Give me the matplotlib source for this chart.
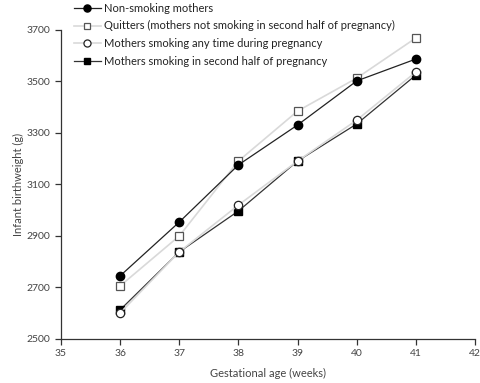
import matplotlib
matplotlib.use("Agg")
import matplotlib.pyplot as plt

weeks = [36, 37, 38, 39, 40, 41]
non_smoking = [2745, 2954, 3176, 3331, 3502, 3587]
quitters = [2706, 2900, 3191, 3385, 3513, 3669]
smoking_any = [2601, 2838, 3020, 3191, 3350, 3537]
smoking_second = [2613, 2838, 2997, 3191, 3335, 3525]

labels = ["Non-smoking mothers",
          "Quitters (mothers not smoking in second half of pregnancy)",
          "Mothers smoking any time during pregnancy",
          "Mothers smoking in second half of pregnancy"]

plt.rcParams['font.family'] = ['Lato', 'DejaVu Sans']

fig = plt.figure(figsize=(4.8, 3.83), dpi=100)
ax = fig.add_axes([0.127, 0.115, 0.863, 0.807])

h2, = ax.plot(weeks, quitters, color='#d9d9d9', lw=1.2, marker='s', ms=5.5,
              mfc='white', mec='#555555', mew=0.9, zorder=2)
h1, = ax.plot(weeks, non_smoking, color='#222222', lw=0.9, marker='o', ms=6,
              mfc='black', mec='black', zorder=3)
h4, = ax.plot(weeks, smoking_second, color='#333333', lw=0.9, marker='s', ms=5.5,
              mfc='black', mec='black', zorder=3)
h3, = ax.plot(weeks, smoking_any, color='#d9d9d9', lw=1.2, marker='o', ms=6,
              mfc='white', mec='#222222', mew=0.9, zorder=4)

ax.set_xlim(35, 42)
ax.set_ylim(2500, 3700)
ax.set_xticks(range(35, 43))
ax.set_yticks(range(2500, 3701, 200))
for s in ['top', 'right']:
    ax.spines[s].set_visible(False)
for s in ['left', 'bottom']:
    ax.spines[s].set_color('#333333')
    ax.spines[s].set_linewidth(0.9)
ax.tick_params(direction='out', length=4, width=0.9, color='#333333',
               labelsize=7.5, labelcolor='#444444')
ax.set_xlabel("Gestational age (weeks)", fontsize=8, color='#444444', labelpad=7)
ax.set_ylabel("Infant birthweight (g)", fontsize=8, color='#444444', labelpad=2)

fig.legend([h1, h2, h3, h4], labels, loc='upper left',
           bbox_to_anchor=(74 / 480, 0.993), frameon=False, fontsize=8,
           borderpad=0, borderaxespad=0, markerscale=0.85,
           handlelength=2.4, handletextpad=0.3, labelspacing=0.6,
           labelcolor='#222222')

fig.savefig("out.png", dpi=100)
